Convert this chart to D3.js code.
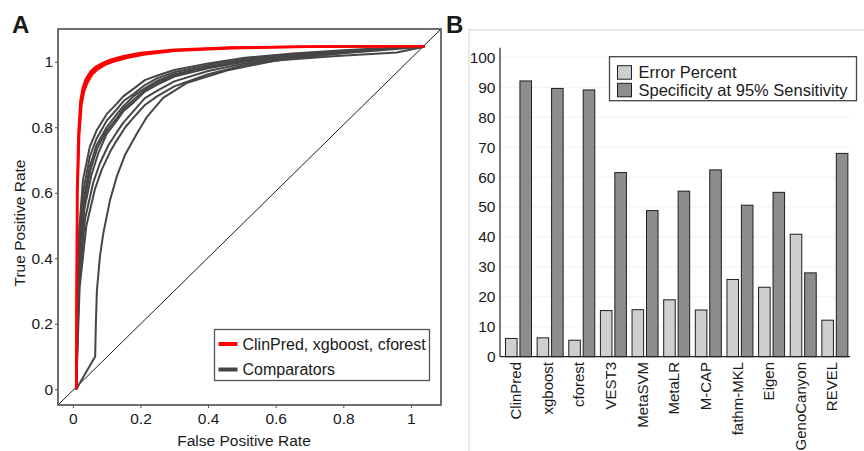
<!DOCTYPE html>
<html>
<head>
<meta charset="utf-8">
<script src="https://cdn.jsdelivr.net/npm/d3@7"></script>
<style>
  body { margin: 0; background: #fff; }
  svg text { font-family: "Liberation Sans", Arial, sans-serif; fill: #1a1a1a; }
</style>
</head>
<body>
<div id="my_dataviz"></div>
<script>
// ---- panel A data: ROC curves as [fpr, tpr] points ----
var clinpredRoc = [[0.01,0],[0.011,0.3],[0.012,0.6],[0.016,0.78],[0.022,0.88],[0.029,0.92],[0.038,0.947],[0.052,0.97],[0.068,0.985],[0.088,0.996],[0.11,1.006],[0.15,1.017],[0.2,1.027],[0.3,1.037],[0.47,1.044],[0.7,1.047],[1.04,1.048]];
var xgboostRoc  = [[0.01,0],[0.012,0.3],[0.014,0.6],[0.019,0.775],[0.026,0.872],[0.034,0.912],[0.044,0.938],[0.058,0.962],[0.074,0.977],[0.094,0.99],[0.12,1.0],[0.16,1.012],[0.21,1.022],[0.3,1.033],[0.47,1.041],[0.7,1.045],[1.04,1.048]];
var cforestRoc  = [[0.01,0],[0.011,0.3],[0.013,0.6],[0.018,0.78],[0.024,0.876],[0.032,0.916],[0.041,0.942],[0.055,0.966],[0.071,0.981],[0.091,0.993],[0.115,1.003],[0.155,1.015],[0.205,1.025],[0.3,1.035],[0.47,1.043],[0.7,1.046],[1.04,1.048]];

var comparatorRocs = [
  [[0.01,0],[0.013,0.25],[0.016,0.45],[0.03,0.64],[0.05,0.74],[0.07,0.79],[0.1,0.84],[0.13,0.872],[0.15,0.895],[0.18,0.918],[0.213,0.944],[0.25,0.958],[0.3,0.975],[0.4,0.995],[0.509,1.012],[0.65,1.025],[0.8,1.035],[1.04,1.048]],
  [[0.01,0],[0.013,0.22],[0.016,0.4],[0.03,0.6],[0.05,0.71],[0.07,0.765],[0.1,0.82],[0.13,0.855],[0.15,0.88],[0.18,0.902],[0.213,0.929],[0.25,0.95],[0.3,0.968],[0.4,0.99],[0.509,1.008],[0.65,1.022],[0.8,1.033],[1.04,1.048]],
  [[0.01,0],[0.013,0.2],[0.016,0.37],[0.03,0.57],[0.05,0.68],[0.07,0.745],[0.1,0.8],[0.13,0.84],[0.15,0.865],[0.18,0.895],[0.213,0.919],[0.25,0.942],[0.3,0.962],[0.4,0.985],[0.509,1.005],[0.65,1.02],[0.8,1.032],[1.04,1.048]],
  [[0.01,0],[0.014,0.2],[0.017,0.36],[0.032,0.56],[0.052,0.67],[0.072,0.735],[0.1,0.79],[0.13,0.828],[0.15,0.857],[0.18,0.884],[0.213,0.914],[0.25,0.936],[0.3,0.958],[0.4,0.982],[0.509,1.002],[0.65,1.019],[0.8,1.031],[1.04,1.048]],
  [[0.01,0],[0.014,0.18],[0.018,0.35],[0.034,0.55],[0.055,0.655],[0.075,0.72],[0.1,0.78],[0.13,0.82],[0.15,0.85],[0.18,0.876],[0.213,0.909],[0.25,0.93],[0.3,0.955],[0.4,0.98],[0.509,1.0],[0.65,1.018],[0.8,1.03],[1.04,1.048]],
  [[0.01,0],[0.014,0.17],[0.019,0.33],[0.036,0.52],[0.06,0.63],[0.08,0.69],[0.105,0.745],[0.13,0.785],[0.15,0.815],[0.18,0.85],[0.213,0.889],[0.25,0.912],[0.3,0.94],[0.4,0.972],[0.509,0.995],[0.65,1.014],[0.8,1.028],[1.04,1.048]],
  [[0.01,0],[0.015,0.16],[0.02,0.31],[0.04,0.5],[0.065,0.61],[0.085,0.67],[0.11,0.725],[0.13,0.76],[0.155,0.8],[0.18,0.83],[0.213,0.868],[0.25,0.895],[0.3,0.925],[0.4,0.962],[0.509,0.99],[0.65,1.01],[0.8,1.026],[1.04,1.046]],
  [[0.01,0],[0.066,0.1],[0.068,0.2],[0.071,0.3],[0.08,0.405],[0.09,0.476],[0.11,0.578],[0.13,0.65],[0.154,0.715],[0.189,0.78],[0.218,0.83],[0.267,0.89],[0.336,0.935],[0.455,0.973],[0.6,1.004],[0.77,1.017],[0.958,1.028],[1.04,1.046]]
];

var rocTicks = [0, 0.2, 0.4, 0.6, 0.8, 1];
var rocLegend = ["ClinPred, xgboost, cforest", "Comparators"];

// ---- panel B data ----
var tools = ["ClinPred", "xgboost", "cforest", "VEST3", "MetaSVM", "MetaLR", "M-CAP", "fathm-MKL", "Eigen", "GenoCanyon", "REVEL"];
var errorPercent = [6.1, 6.3, 5.5, 15.4, 15.7, 19.0, 15.6, 25.8, 23.2, 40.9, 12.2];
var specificity  = [92.1, 89.6, 89.1, 61.5, 48.8, 55.3, 62.4, 50.6, 54.9, 28.0, 67.9];
var barSeries = ["Error Percent", "Specificity at 95% Sensitivity"];
var barColors = ["#cfcfcf", "#8d8d8d"];
var barTicks = [0, 10, 20, 30, 40, 50, 60, 70, 80, 90, 100];

var svg = d3.select("#my_dataviz")
  .append("svg")
    .attr("width", 864)
    .attr("height", 451);

// ================= Panel A =================
var xA = d3.scaleLinear().domain([-0.044, 1.089]).range([58, 441]);
var yA = d3.scaleLinear().domain([-0.048, 1.10]).range([405, 29]);

var gA = svg.append("g");

gA.append("text")
  .attr("x", 12).attr("y", 33)
  .style("font-size", "24px").style("font-weight", "bold")
  .text("A");

// diagonal reference line, corner to corner
gA.append("line")
  .attr("x1", xA(xA.domain()[0])).attr("y1", yA(yA.domain()[0]))
  .attr("x2", xA(xA.domain()[1])).attr("y2", yA(yA.domain()[1]))
  .attr("stroke", "#000").attr("stroke-width", 0.9);

var line = d3.line()
  .x(function(d) { return xA(d[0]); })
  .y(function(d) { return yA(d[1]); });

gA.append("g").selectAll("path")
  .data(comparatorRocs)
  .enter().append("path")
    .attr("d", line)
    .attr("fill", "none")
    .attr("stroke", "#464646")
    .attr("stroke-width", 2)
    .attr("stroke-linejoin", "round");

gA.append("g").selectAll("path")
  .data([clinpredRoc, xgboostRoc, cforestRoc])
  .enter().append("path")
    .attr("d", line)
    .attr("fill", "none")
    .attr("stroke", "#ff0000")
    .attr("stroke-width", 2.2)
    .attr("stroke-linejoin", "round");

// frame
gA.append("rect")
  .attr("x", xA.range()[0]).attr("y", yA.range()[1])
  .attr("width", xA.range()[1] - xA.range()[0])
  .attr("height", yA.range()[0] - yA.range()[1])
  .attr("fill", "none").attr("stroke", "#4d4d4d").attr("stroke-width", 1.6);

function fmt(d) { return d === 0 ? "0" : d === 1 ? "1" : d3.format(".1f")(d); }

var axA_y = gA.append("g")
  .attr("transform", "translate(58,0)")
  .call(d3.axisLeft(yA).tickValues(rocTicks).tickFormat(fmt).tickSize(3).tickPadding(2));
var axA_x = gA.append("g")
  .attr("transform", "translate(0,405)")
  .call(d3.axisBottom(xA).tickValues(rocTicks).tickFormat(fmt).tickSize(3).tickPadding(5));
[axA_y, axA_x].forEach(function(a) {
  a.select(".domain").remove();
  a.selectAll(".tick line").attr("stroke", "#555");
  a.selectAll(".tick text").style("font-size", "15.5px").attr("fill", "#1a1a1a");
});

gA.append("text")
  .attr("x", 244).attr("y", 446)
  .attr("text-anchor", "middle")
  .style("font-size", "15.5px")
  .text("False Positive Rate");
gA.append("text")
  .attr("transform", "translate(25,223) rotate(-90)")
  .attr("text-anchor", "middle")
  .style("font-size", "15.5px")
  .text("True Positive Rate");

// legend A
var legA = gA.append("g").attr("transform", "translate(214.5,329.5)");
legA.append("rect")
  .attr("width", 215).attr("height", 51)
  .attr("fill", "#fff").attr("stroke", "#555").attr("stroke-width", 1.3);
legA.selectAll(".it")
  .data(rocLegend)
  .enter().append("g")
    .attr("transform", function(d, i) { return "translate(0," + (14.5 + i * 25.5) + ")"; })
    .each(function(d, i) {
      var g = d3.select(this);
      g.append("line")
        .attr("x1", 4).attr("x2", 23)
        .attr("stroke", i === 0 ? "#ff0000" : "#444")
        .attr("stroke-width", 4);
      g.append("text")
        .attr("x", 28).attr("dy", "0.36em")
        .style("font-size", "16px")
        .text(d);
    });

// ================= Panel B =================
var gB = svg.append("g");

gB.append("path")
  .attr("d", "M469,451V30H864")
  .attr("fill", "none").attr("stroke", "#e4e4e4").attr("stroke-width", 1.5);

gB.append("text")
  .attr("x", 446).attr("y", 33)
  .style("font-size", "24px").style("font-weight", "bold")
  .text("B");

var xB = d3.scaleBand().domain(tools).range([500, 848]);
var xSub = d3.scaleBand().domain(barSeries).range([5.5, 31.5]).paddingInner(0.2);
var yB = d3.scaleLinear().domain([0, 100]).range([356.7, 57.3]);

// faint gridlines
gB.append("g").selectAll("line")
  .data(barTicks.slice(1))
  .enter().append("line")
    .attr("x1", 500).attr("x2", 850)
    .attr("y1", function(d) { return yB(d); })
    .attr("y2", function(d) { return yB(d); })
    .attr("stroke", "#f1f1f1").attr("stroke-width", 1);

var rows = tools.map(function(t, i) {
  return { tool: t, values: [errorPercent[i], specificity[i]] };
});

gB.append("g").selectAll("g")
  .data(rows)
  .enter().append("g")
    .attr("transform", function(d) { return "translate(" + xB(d.tool) + ",0)"; })
  .selectAll("rect")
  .data(function(d) { return d.values.map(function(v, j) { return { key: barSeries[j], value: v, j: j }; }); })
  .enter().append("rect")
    .attr("x", function(d) { return xSub(d.key); })
    .attr("y", function(d) { return yB(d.value); })
    .attr("width", xSub.bandwidth())
    .attr("height", function(d) { return yB(0) - yB(d.value); })
    .attr("fill", function(d) { return barColors[d.j]; })
    .attr("stroke", "#1e1e1e")
    .attr("stroke-width", 1);

// axes
var axB_y = gB.append("g")
  .attr("transform", "translate(500,0)")
  .call(d3.axisLeft(yB).tickValues(barTicks).tickSize(0).tickPadding(4.5));
axB_y.select(".domain").remove();
axB_y.selectAll(".tick text").style("font-size", "15.5px").attr("fill", "#1a1a1a");

gB.append("line")
  .attr("x1", 500).attr("x2", 500)
  .attr("y1", yB(0)).attr("y2", yB(103.2))
  .attr("stroke", "#222").attr("stroke-width", 1.2);
gB.append("line")
  .attr("x1", 500).attr("x2", 850)
  .attr("y1", yB(0)).attr("y2", yB(0))
  .attr("stroke", "#222").attr("stroke-width", 1.2);

gB.append("g").selectAll("text")
  .data(tools)
  .enter().append("text")
    .attr("transform", function(d) { return "translate(" + (xB(d) + xB.bandwidth() / 2) + ",362) rotate(-90)"; })
    .attr("text-anchor", "end")
    .attr("dy", "0.35em")
    .style("font-size", "15px")
    .text(function(d) { return d; });

// legend B
var legB = gB.append("g").attr("transform", "translate(609.5,56.7)");
legB.append("rect")
  .attr("width", 247).attr("height", 44)
  .attr("fill", "#fff").attr("stroke", "#444").attr("stroke-width", 1.3);
legB.selectAll(".it")
  .data(barSeries)
  .enter().append("g")
    .attr("transform", function(d, i) { return "translate(8," + (9 + i * 17.6) + ")"; })
    .each(function(d, i) {
      var g = d3.select(this);
      g.append("rect")
        .attr("width", 14).attr("height", 13.5)
        .attr("fill", barColors[i]).attr("stroke", "#1e1e1e").attr("stroke-width", 1);
      g.append("text")
        .attr("x", 21).attr("y", 6.8).attr("dy", "0.36em")
        .style("font-size", "16.5px")
        .text(d);
    });
</script>
</body>
</html>
